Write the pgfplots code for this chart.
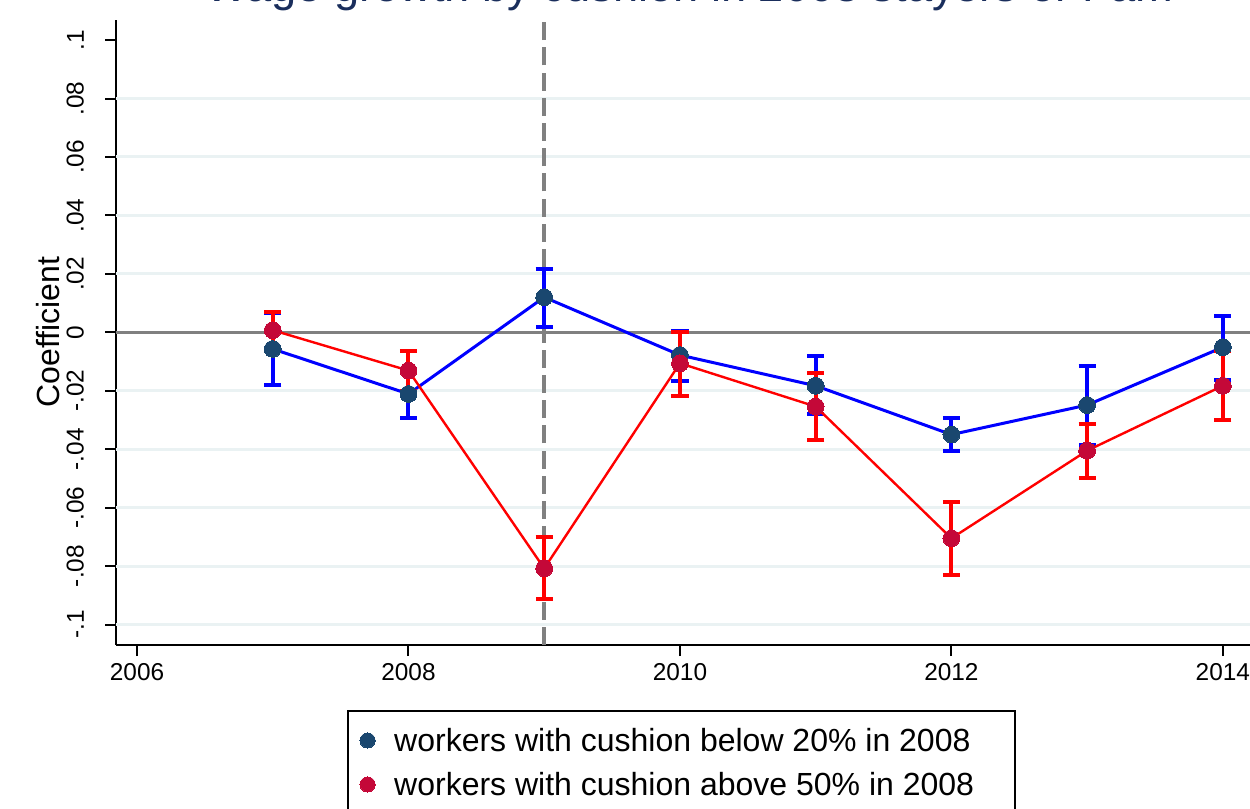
\documentclass[border=0pt]{standalone}
\usepackage{fontspec}
\setmainfont{Liberation Sans}
\usepackage{pgfplots}
\usepackage{pgfplotstable}
\pgfplotsset{compat=1.18}

\definecolor{statanavy}{RGB}{26,71,111}
\definecolor{cranberry}{RGB}{196,8,56}
\definecolor{gridblue}{RGB}{234,242,243}
\definecolor{titlenavy}{RGB}{26,46,92}
\definecolor{refgray}{RGB}{128,128,128}

% Event-study coefficients with upper/lower distances to the 95% CI caps
\pgfplotstableread{
year   coef     ep      em
2007  -0.0057  0.0122  0.0122
2008  -0.0211  0.0082  0.0082
2009   0.0120  0.0098  0.0101
2010  -0.0078  0.0084  0.0087
2011  -0.0183  0.0101  0.0097
2012  -0.0350  0.0057  0.0057
2013  -0.0249  0.0135  0.0136
2014  -0.0051  0.0108  0.0111
}\lowcushion

\pgfplotstableread{
year   coef     ep      em
2007   0.0007  0.0063  0.0063
2008  -0.0131  0.0068  0.0071
2009  -0.0808  0.0108  0.0106
2010  -0.0106  0.0106  0.0111
2011  -0.0254  0.0114  0.0113
2012  -0.0705  0.0123  0.0125
2013  -0.0405  0.0091  0.0094
2014  -0.0183  0.0120  0.0117
}\highcushion

\begin{document}
\begin{tikzpicture}
\useasboundingbox (-58pt,-82pt) rectangle (567pt,322.5pt);
\clip (-58pt,-82pt) rectangle (567pt,322.5pt);
\begin{axis}[
  at={(0pt,0pt)}, anchor=south west,
  scale only axis, width=567pt, height=312.7pt,
  xmin=2005.845, xmax=2014.2,
  ymin=-0.107, ymax=0.107,
  axis x line=bottom, axis y line=left,
  axis line style={-, black, line width=1pt},
  tick style={black, line width=1pt},
  tick align=outside, major tick length=5.5pt,
  xtick={2006,2008,2010,2012,2014},
  xticklabels={2006,2008,2010,2012,2014},
  ytick={-0.1,-0.08,-0.06,-0.04,-0.02,0,0.02,0.04,0.06,0.08,0.1},
  yticklabels={-.1,-.08,-.06,-.04,-.02,0,.02,.04,.06,.08,.1},
  ticklabel style={font=\fontsize{12.2}{14}\selectfont},
  yticklabel style={rotate=90, anchor=south},
  yticklabel shift=7pt,
  % horizontal grid below the top tick only
  extra y ticks={-0.1,-0.08,-0.06,-0.04,-0.02,0.02,0.04,0.06,0.08},
  extra y tick labels={},
  extra y tick style={grid=major, major tick length=0pt,
    major grid style={gridblue, line width=1.5pt}},
  ylabel={Coefficient},
  ylabel style={at={(axis description cs:-0.06,0.5)}, anchor=center,
    font=\fontsize{16}{19}\selectfont},
  legend style={at={(axis description cs:0.2037,-0.1039)}, anchor=north west,
    draw=black, line width=1pt, fill=white,
    font=\fontsize{16}{19}\selectfont,
    inner xsep=6pt, inner ysep=4pt, row sep=0.5pt,
    /tikz/every odd column/.append style={column sep=7.5pt},
    nodes={inner ysep=0pt, text height=16.5pt, text depth=5pt}},
  legend cell align=left,
]
% reference lines
\addplot[forget plot, refgray, line width=1.5pt] coordinates {(2005.845,0) (2014.2,0)};
\addplot[forget plot, refgray, line width=2pt, dash pattern=on 9pt off 3.6pt]
  coordinates {(2009,-0.107) (2009,0.107)};

% workers with cushion below 20%
\addplot[forget plot, blue, line width=1.5pt, mark=*, mark size=4.2pt,
  mark options={fill=statanavy, draw=statanavy, line width=0pt}]
  table[x=year, y=coef] {\lowcushion};
\addplot[forget plot, draw=none, mark=none,
  error bars/.cd, y dir=both, y explicit, error mark=|,
  error bar style={draw=blue, solid, line width=2pt},
  error mark options={draw=blue, solid, line width=2pt, mark size=4.3pt}]
  table[x=year, y=coef, y error plus=ep, y error minus=em] {\lowcushion};

% workers with cushion above 50%
\addplot[forget plot, red, line width=1.2pt, mark=*, mark size=4.2pt,
  mark options={fill=cranberry, draw=cranberry, line width=0pt}]
  table[x=year, y=coef] {\highcushion};
\addplot[forget plot, draw=none, mark=none,
  error bars/.cd, y dir=both, y explicit, error mark=|,
  error bar style={draw=red, solid, line width=2pt},
  error mark options={draw=red, solid, line width=2pt, mark size=4.3pt}]
  table[x=year, y=coef, y error plus=ep, y error minus=em] {\highcushion};

\addlegendimage{only marks, mark=*, mark size=3.8pt, statanavy, mark options={line width=0pt}}
\addlegendentry{workers with cushion below 20\% in 2008\hspace*{12.5pt}}
\addlegendimage{only marks, mark=*, mark size=3.8pt, cranberry, mark options={line width=0pt}}
\addlegendentry{workers with cushion above 50\% in 2008\hspace*{12.5pt}}
\end{axis}
\node[anchor=base west, inner sep=0pt, text=titlenavy,
  font=\fontsize{22.6}{26}\selectfont] at (44.5pt,321.5pt)
  {Wage growth by cushion in 2008 stayers or Fam};
\end{tikzpicture}
\end{document}
